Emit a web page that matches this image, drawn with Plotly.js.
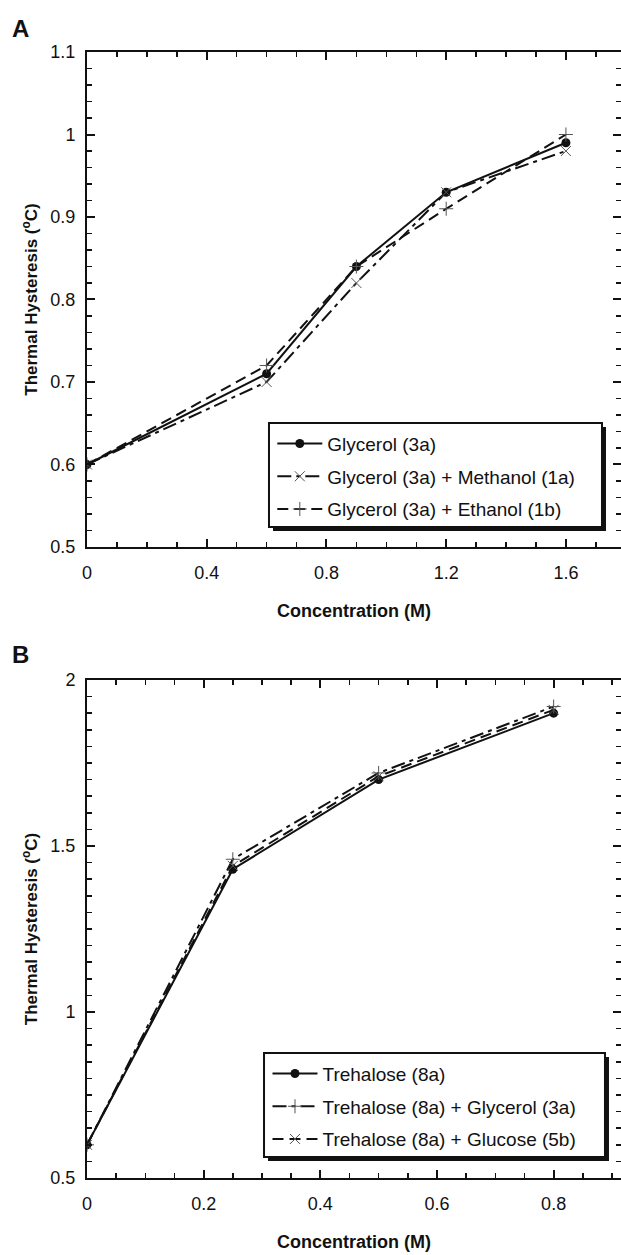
<!DOCTYPE html>
<html>
<head>
<meta charset="utf-8">
<script src="https://cdn.plot.ly/plotly-3.0.1.min.js"></script>
<style>html,body{margin:0;padding:0;background:#fff;}#chart{width:621px;height:1255px;}</style>
</head>
<body>
<div id="chart"></div>
<script>
// Panel A data
const concA = [0, 0.6, 0.9, 1.2, 1.6];
const glycerol = [0.60, 0.71, 0.84, 0.93, 0.99];
const glycerolMethanol = [0.60, 0.70, 0.82, 0.93, 0.98];
const glycerolEthanol = [0.60, 0.72, 0.84, 0.91, 1.00];
const namesA = ["Glycerol (3a)", "Glycerol (3a) + Methanol (1a)", "Glycerol (3a) + Ethanol (1b)"];

// Panel B data
const concB = [0, 0.25, 0.5, 0.8];
const trehalose = [0.60, 1.43, 1.70, 1.90];
const trehaloseGlycerol = [0.60, 1.46, 1.72, 1.92];
const trehaloseGlucose = [0.60, 1.44, 1.71, 1.91];
const namesB = ["Trehalose (8a)", "Trehalose (8a) + Glycerol (3a)", "Trehalose (8a) + Glucose (5b)"];

const FONT = "Liberation Sans, Arial, sans-serif";
const BLACK = "#111";

function solid(x, y, name, xa, ya, lg, grp) {
  return {x, y, name, xaxis: xa, yaxis: ya, legend: lg, legendgroup: grp, type: "scatter", mode: "lines+markers",
    line: {color: BLACK, width: 2}, marker: {symbol: "circle", size: 9, color: BLACK}};
}
function dashed(x, y, name, xa, ya, lg, grp, dash, sym) {
  return {x, y, name, xaxis: xa, yaxis: ya, legend: lg, legendgroup: grp, type: "scatter", mode: "lines+markers",
    line: {color: BLACK, width: 2, dash: dash},
    marker: {symbol: sym, size: 10, color: "#555", line: {color: "#555", width: 1}}};
}
const dashLongShort = "14px,5px,4px,5px";
const dashLong = "11px,6px";

const traces = [
  solid(concA, glycerol, namesA[0], "x", "y", "legend", "a1"),
  dashed(concA, glycerolMethanol, namesA[1], "x", "y", "legend", "a2", dashLongShort, "x-thin"),
  dashed(concA, glycerolEthanol, namesA[2], "x", "y", "legend", "a3", dashLong, "cross-thin"),
  solid(concB, trehalose, namesB[0], "x2", "y2", "legend2", "b1"),
  dashed(concB, trehaloseGlycerol, namesB[1], "x2", "y2", "legend2", "b2", dashLongShort, "cross-thin"),
  dashed(concB, trehaloseGlucose, namesB[2], "x2", "y2", "legend2", "b3", dashLong, "x-thin")
];

function xax(range, dtick, mdtick, anchor) {
  return {range, dtick, tick0: 0, anchor, showgrid: false, zeroline: false,
    showline: true, linecolor: BLACK, linewidth: 2, mirror: "ticks",
    ticks: "inside", ticklen: 8, tickwidth: 2, tickcolor: BLACK, ticklabelstandoff: 8,
    minor: {dtick: mdtick, ticks: "inside", ticklen: 5, tickwidth: 1.5, tickcolor: BLACK, showgrid: false},
    tickfont: {family: FONT, size: 18, color: BLACK},
    title: {text: "<b>Concentration (M)</b>", font: {family: FONT, size: 18, color: BLACK}, standoff: 23}};
}
function yax(range, dtick, mdtick, anchor, domain) {
  return {range, dtick, tick0: 0.5, anchor, domain, showgrid: false, zeroline: false,
    showline: true, linecolor: BLACK, linewidth: 2, mirror: "ticks",
    ticks: "inside", ticklen: 8, tickwidth: 2, tickcolor: BLACK, ticklabelstandoff: 6,
    minor: {dtick: mdtick, ticks: "inside", ticklen: 5, tickwidth: 1.5, tickcolor: BLACK, showgrid: false},
    tickfont: {family: FONT, size: 18, color: BLACK},
    title: {text: "<b>Thermal Hysteresis (<sup>o</sup>C)</b>", font: {family: FONT, size: 17, color: BLACK}, standoff: 8}};
}

function legendCfg(x, y) {
  return {x, y, xanchor: "left", yanchor: "top", bgcolor: "rgba(0,0,0,0)", borderwidth: 0,
    font: {family: FONT, size: 19, color: BLACK}, itemwidth: 45,
    traceorder: "grouped", tracegroupgap: 5};
}

function box(x0, x1, y0, y1, shadow) {
  return shadow
    ? {type: "rect", xref: "paper", yref: "paper", x0, x1, y0, y1, fillcolor: BLACK, line: {width: 0}, layer: "above"}
    : {type: "rect", xref: "paper", yref: "paper", x0, x1, y0, y1, fillcolor: "#fff", line: {color: BLACK, width: 2}, layer: "above"};
}

const layout = {
  width: 621, height: 1255,
  margin: {l: 87, r: 0, t: 52, b: 77},
  paper_bgcolor: "#fff", plot_bgcolor: "#fff",
  showlegend: true,
  xaxis: xax([0, 1.784], 0.4, 0.1, "y"),
  yaxis: yax([0.5, 1.1], 0.1, 0.02, "x", [0.5604, 1]),
  xaxis2: xax([0, 0.9155], 0.2, 0.05, "y2"),
  yaxis2: yax([0.5, 2], 0.5, 0.05, "x2", [0, 0.4423]),
  legend: legendCfg(0.347, 0.6690),
  legend2: legendCfg(0.338, 0.1095),
  shapes: [
    box(0.3483, 0.9719, 0.5746, 0.6670, true),
    box(0.3408, 0.9644, 0.5782, 0.6705, false),
    box(0.3390, 0.9775, 0.0151, 0.1075, true),
    box(0.3315, 0.9700, 0.01865, 0.1110, false)
  ],
  annotations: [
    {text: "<b>A</b>", xref: "paper", yref: "paper", x: -0.144, y: 1.0213, xanchor: "left", yanchor: "middle", showarrow: false, font: {family: FONT, size: 24, color: BLACK}},
    {text: "<b>B</b>", xref: "paper", yref: "paper", x: -0.144, y: 0.4645, xanchor: "left", yanchor: "middle", showarrow: false, font: {family: FONT, size: 24, color: BLACK}}
  ]
};

Plotly.newPlot("chart", traces, layout, {displayModeBar: false, staticPlot: true});
</script>
</body>
</html>
